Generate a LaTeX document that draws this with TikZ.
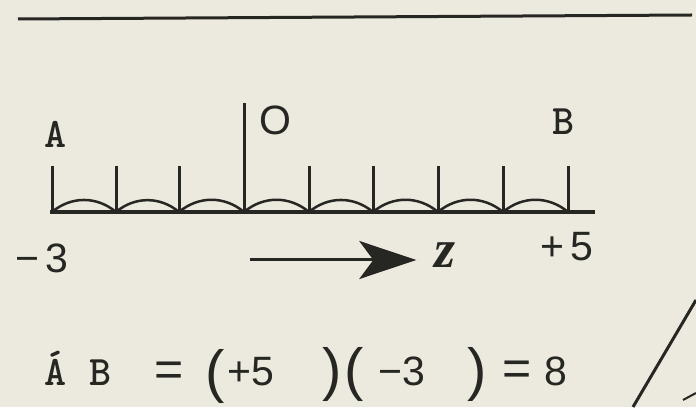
\documentclass[tikz,border=0pt]{standalone}
\usepackage{fontspec}
\setmainfont{Liberation Sans}
\newfontfamily\zfont{Liberation Serif}
\usetikzlibrary{arrows.meta}
\definecolor{paper}{RGB}{236,234,222}
\definecolor{ink}{RGB}{38,38,34}
\tikzstyle{tick} = [draw=ink, line width=3pt]
\tikzstyle{hump} = [draw=ink, line width=2.5pt, bend left=40]
\tikzstyle{letter} = [text=ink, font=\ttfamily\bfseries\fontsize{42}{42}\selectfont, inner sep=0pt]
\tikzstyle{number} = [text=ink, font=\fontsize{41}{41}\selectfont, inner sep=0pt]
\tikzstyle{paren} = [text=ink, font=\fontsize{58}{58}\selectfont, inner sep=0pt, anchor=base]
\tikzstyle{equal} = [text=ink, font=\fontsize{50}{50}\selectfont, inner sep=0pt]
\tikzstyle{line} = [draw=ink, line width=3pt, -{Stealth[length=57pt,width=38pt,inset=14pt]}]

\begin{document}
\begin{tikzpicture}[x=1pt,y=1pt]
	\fill[paper] (0,0) rectangle (696,407);
	\useasboundingbox (0,0) rectangle (696,407);

	% rule at the top
	\coordinate (ruleL) at (18,388);
	\coordinate (ruleR) at (692,392);
	\draw[ink, line width=3pt] (ruleL) -- (ruleR);

	% number line
	\coordinate (axisL) at (50,195);
	\coordinate (axisR) at (595,195);
	\coordinate (m3) at (52,195);
	\coordinate (m2) at (116,195);
	\coordinate (m1) at (179,195);
	\coordinate (origin) at (244,195);
	\coordinate (p1) at (309,195);
	\coordinate (p2) at (373,195);
	\coordinate (p3) at (438,195);
	\coordinate (p4) at (503,195);
	\coordinate (p5) at (568,195);
	\draw[ink, line width=3.5pt] (axisL) -- (axisR);

	\path[tick] (m3) -- ++(0,46);
	\path[tick] (m2) -- ++(0,46);
	\path[tick] (m1) -- ++(0,46);
	\path[tick] (origin) -- ++(0,109);
	\path[tick] (p1) -- ++(0,46);
	\path[tick] (p2) -- ++(0,46);
	\path[tick] (p3) -- ++(0,46);
	\path[tick] (p4) -- ++(0,46);
	\path[tick] (p5) -- ++(0,46);

	\path[hump] (m3) to (m2);
	\path[hump] (m2) to (m1);
	\path[hump] (m1) to (origin);
	\path[hump] (origin) to (p1);
	\path[hump] (p1) to (p2);
	\path[hump] (p2) to (p3);
	\path[hump] (p3) to (p4);
	\path[hump] (p4) to (p5);

	\node[letter] (A) at (56,273) {A};
	\node[number] (O) at (275,287) {O};
	\node[letter] (B) at (564,285) {B};
	\node[number] (m3lab) at (42,149) {−\,3};
	\node[number] (p5lab) at (567,160) {+\,5};

	% direction of z
	\node[text=ink, inner sep=0pt, font=\zfont\bfseries\itshape\fontsize{54}{54}\selectfont] (z) at (445,152) {z};
	\coordinate (zstart) at (250,147);
	\path[line, shorten >=18pt] (zstart) -- (zstart -| z.west);

	% length of AB
	\node[letter, anchor=base] (AB) at (78,21) {Á B};
	\node[equal] (eq1) at (169,33) {=};
	\node[paren] (lp1) at (215,16) {(};
	\node[number, anchor=base] (plus5) at (251,21) {+5};
	\node[paren] (rp1) at (332,18) {)};
	\node[paren] (lp2) at (354,18) {(};
	\node[number, anchor=base] (minus3) at (402,21) {−3};
	\node[paren] (rp2) at (477,18) {)};
	\node[equal] (eq2) at (517,34) {=};
	\node[number, anchor=base] (eight) at (556,21) {8};

	% stroke at the page corner
	\coordinate (slashT) at (696,107);
	\coordinate (slashB) at (633,0);
	\coordinate (flickL) at (683,7);
	\coordinate (flickR) at (696,14);
	\draw[ink, line width=3pt] (slashT) -- (slashB);
	\draw[ink, line width=2pt] (flickL) -- (flickR);
\end{tikzpicture}
\end{document}
